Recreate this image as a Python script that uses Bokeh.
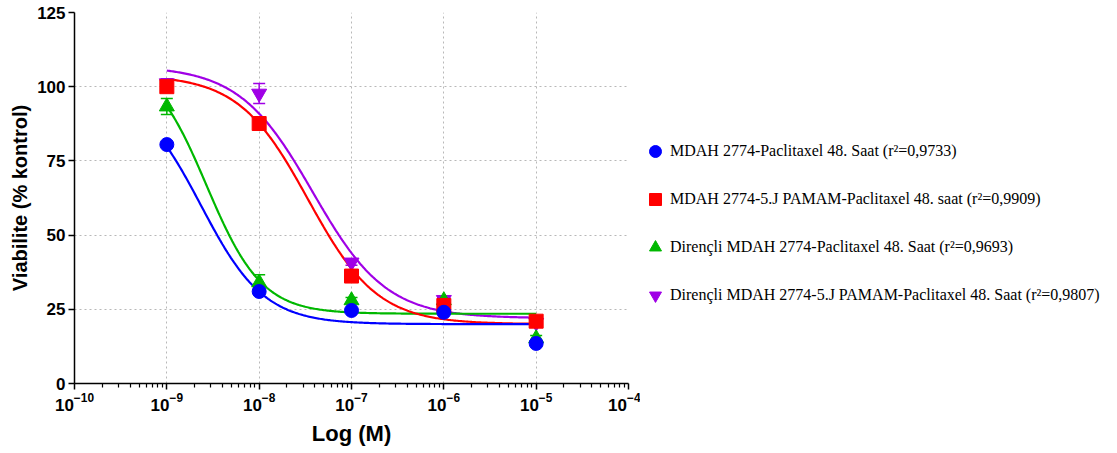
import numpy as np
from bokeh.plotting import figure
from bokeh.layouts import row
from bokeh.models import (Legend, LegendItem, Whisker, ColumnDataSource, FixedTicker,
                          Range1d, TeeHead, LogTickFormatter)
from bokeh.embed import file_html
from bokeh.resources import INLINE

# ---- data ----
conc = [1e-9, 1e-8, 1e-7, 1e-6, 1e-5]
blue_y = [80.5, 31.0, 24.6, 24.0, 13.5]
blue_err = [0.8, 1.0, 0.6, 0.6, 0.6]
red_y = [100.0, 87.6, 36.2, 26.3, 21.0]
red_err = [1.5, 1.0, 1.0, 1.0, 0.6]
green_y = [93.3, 34.0, 28.0, 28.0, 15.2]
green_err = [2.7, 2.6, 1.0, 1.0, 1.0]
purple_y = [101.2, 97.7, 40.8, 28.2, 20.5]
purple_err = [1.5, 3.4, 1.0, 1.0, 0.6]

# four-parameter logistic fits (top, bottom, logEC50, hill)
blue_fit = [100.0, 20.0, -8.63, 1.27]
red_fit = [104.0, 20.0, -7.47, 1.155]
green_fit = [110.0, 23.5, -8.57, 1.45]
purple_fit = [107.0, 22.0, -7.42, 1.09]

labels = ["MDAH 2774-Paclitaxel 48. Saat (r\u00b2=0,9733)",
          "MDAH 2774-5.J PAMAM-Paclitaxel 48. saat (r\u00b2=0,9909)",
          "Diren\u00e7li MDAH 2774-Paclitaxel 48. Saat (r\u00b2=0,9693)",
          "Diren\u00e7li MDAH 2774-5.J PAMAM-Paclitaxel 48. Saat (r\u00b2=0,9807)"]

x_ticks = [1e-10, 1e-9, 1e-8, 1e-7, 1e-6, 1e-5, 1e-4]
y_ticks = [0, 25, 50, 75, 100, 125]

colors = {"blue": "#0000FF", "red": "#FF0000", "green": "#00B800", "purple": "#A000E6"}

p = figure(width=640, height=453, x_axis_type="log",
           x_range=Range1d(1e-10, 1e-4), y_range=Range1d(0, 125),
           output_backend="svg", toolbar_location=None,
           min_border_left=74, min_border_right=12, min_border_top=12, min_border_bottom=70)
p.outline_line_color = None
p.background_fill_color = "white"
p.border_fill_color = "white"

minor = [k * d for d in x_ticks[:-1] for k in range(2, 10)]
p.xaxis.ticker = FixedTicker(ticks=x_ticks, minor_ticks=minor)
p.yaxis.ticker = FixedTicker(ticks=y_ticks)
p.xaxis.formatter = LogTickFormatter()

for ax in (p.xaxis, p.yaxis):
    ax.axis_line_width = 1.5
    ax.axis_line_color = "black"
    ax.major_tick_line_color = "black"
    ax.major_tick_line_width = 1.5
    ax.major_tick_in = 0
    ax.major_tick_out = 6
    ax.minor_tick_in = 0
    ax.minor_tick_out = 4
    ax.minor_tick_line_color = "black"
    ax.minor_tick_line_width = 1.2
    ax.major_label_text_font = "Liberation Sans"
    ax.major_label_text_font_style = "bold"
    ax.major_label_text_font_size = "17px"
    ax.major_label_text_color = "black"
    ax.axis_label_text_font = "Liberation Sans"
    ax.axis_label_text_font_style = "bold"
    ax.axis_label_text_color = "black"
p.xaxis.axis_label_text_font_size = "22px"
p.yaxis.axis_label_text_font_size = "20px"
p.yaxis.minor_tick_line_color = None
p.xaxis.axis_label = "Log (M)"
p.yaxis.axis_label = "Viabilite (% kontrol)"
p.xaxis.major_label_standoff = 3
p.yaxis.major_label_standoff = 3
p.yaxis.axis_label_standoff = 3
p.xaxis.axis_label_standoff = 7

for g in (p.xgrid, p.ygrid):
    g.grid_line_color = "#b8b8b8"
    g.grid_line_dash = "2 3"
    g.grid_line_width = 1

xs = np.logspace(-9, -5, 300)
lx = np.log10(xs)


def fit_curve(par):
    top, bot, c, h = par
    return bot + (top - bot) / (1 + 10 ** ((lx - c) * h))


series = [
    ("purple", purple_y, purple_err, purple_fit, "inverted_triangle", 15),
    ("green", green_y, green_err, green_fit, "triangle", 15),
    ("red", red_y, red_err, red_fit, "square", 14),
    ("blue", blue_y, blue_err, blue_fit, "circle", 14),
]
markers = {s[0]: (s[4], s[5]) for s in series}
sources = {}

for name, ys, errs, par, marker, size in series:
    col = colors[name]
    p.line(xs, fit_curve(par), line_color=col, line_width=2.2)
for name, ys, errs, par, marker, size in series:
    col = colors[name]
    src = ColumnDataSource(dict(x=conc, y=ys,
                                lo=[a - b for a, b in zip(ys, errs)],
                                hi=[a + b for a, b in zip(ys, errs)]))
    sources[name] = src
    w = Whisker(source=src, base="x", lower="lo", upper="hi", dimension="height",
                line_color=col, line_width=1.5,
                upper_head=TeeHead(size=12, line_color=col, line_width=1.5),
                lower_head=TeeHead(size=12, line_color=col, line_width=1.5))
    p.add_layout(w)
    p.scatter("x", "y", source=src, marker=marker, size=size,
              fill_color=col, line_color=col)

# ---- legend panel to the right (its own plot, data kept out of view) ----
lg = figure(width=477, height=453, x_range=Range1d(0, 1), y_range=Range1d(500, 600),
            output_backend="svg", toolbar_location=None,
            x_axis_location=None, y_axis_location=None,
            min_border_left=0, min_border_right=0, min_border_top=12, min_border_bottom=70)
lg.outline_line_color = None
lg.grid.visible = False
lg.background_fill_color = "white"
lg.border_fill_color = "white"

items = []
for i, name in enumerate(["blue", "red", "green", "purple"]):
    mk, sz = markers[name]
    r = lg.scatter("x", "y", source=sources[name], marker=mk, size=sz + 2,
                   fill_color=colors[name], line_color=colors[name])
    items.append(LegendItem(label=labels[i], renderers=[r]))

legend = Legend(items=items, location=(0, 72))
legend.label_text_font = "Liberation Serif"
legend.label_text_font_size = "16px"
legend.label_text_color = "black"
legend.border_line_color = None
legend.background_fill_alpha = 0
legend.spacing = 16
legend.glyph_height = 32
legend.glyph_width = 30
legend.label_height = 32
legend.padding = 0
legend.margin = 0
legend.label_standoff = -3
lg.add_layout(legend, "center")

open("out.html", "w").write(file_html(row(p, lg), INLINE))
